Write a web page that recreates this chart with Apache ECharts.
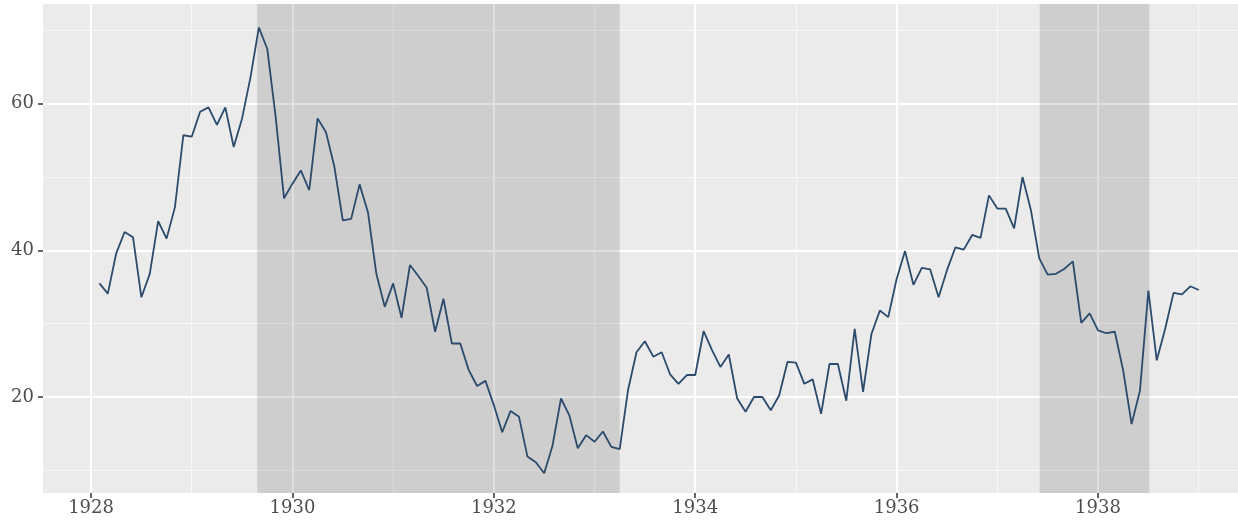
<!DOCTYPE html>
<html>
<head>
<meta charset="utf-8">
<title>1928-1938</title>
<script src="https://cdn.jsdelivr.net/npm/echarts@6/dist/echarts.min.js"></script>
<style>
	html, body { margin: 0; padding: 0; background: #ffffff; }
	#line { width: 1238px; height: 525px; }
</style>
</head>
<body>
<div id="line"></div>
<script>
// monthly series, Jan 1928 - Dec 1938 (plotted at month end)
var startYear = 1928;
var values = [
	35.5, 34.1, 39.6, 42.5, 41.8, 33.6, 36.8, 44.0, 41.6, 45.9, 55.7, 55.5,
	58.9, 59.5, 57.1, 59.5, 54.1, 58.0, 63.6, 70.4, 67.5, 58.2, 47.1, 49.1,
	50.9, 48.2, 58.0, 56.1, 51.4, 44.1, 44.3, 49.0, 45.2, 36.8, 32.3, 35.5,
	30.8, 38.0, 36.5, 34.9, 28.9, 33.4, 27.3, 27.3, 23.7, 21.5, 22.2, 18.9,
	15.2, 18.1, 17.3, 11.9, 11.1, 9.6, 13.4, 19.8, 17.5, 13.0, 14.8, 13.9,
	15.3, 13.2, 12.9, 21.0, 26.1, 27.6, 25.5, 26.1, 23.1, 21.8, 23.0, 23.0,
	29.0, 26.4, 24.1, 25.8, 19.8, 18.0, 20.0, 20.0, 18.2, 20.2, 24.8, 24.7,
	21.8, 22.4, 17.7, 24.5, 24.5, 19.5, 29.3, 20.7, 28.6, 31.8, 30.9, 36.1,
	39.9, 35.3, 37.6, 37.4, 33.6, 37.3, 40.4, 40.1, 42.1, 41.7, 47.5, 45.7,
	45.7, 43.0, 50.0, 45.5, 38.9, 36.7, 36.8, 37.5, 38.5, 30.1, 31.4, 29.1,
	28.7, 28.9, 23.6, 16.3, 20.9, 34.5, 25.0, 29.3, 34.2, 34.0, 35.1, 34.6
];

// shaded periods (decimal years)
var recessions = [[1929.65, 1933.25], [1937.42, 1938.51]];

// axis ticks
var xTicks = [1928, 1930, 1932, 1934, 1936, 1938];
var xMinor = [1929, 1931, 1933, 1935, 1937, 1939];
var yTicks = [20, 40, 60];
var yMinor = [10, 30, 50, 70];

var myChart = echarts.init(document.getElementById('line'));

// points [x, y]
var points = [];
for (var i = 0; i < values.length; i++) {
	points.push([startYear + (i + 1) / 12, values[i]]);
}

// grid lines as markLines (ggplot style: white major, thinner minor)
var gridLines = [];
xMinor.forEach(function (v) { gridLines.push({xAxis: v, lineStyle: {color: '#f7f7f7', width: 1, type: 'solid'}}); });
yMinor.forEach(function (v) { gridLines.push({yAxis: v, lineStyle: {color: '#f7f7f7', width: 1, type: 'solid'}}); });
xTicks.forEach(function (v) { gridLines.push({xAxis: v, lineStyle: {color: '#ffffff', width: 2, type: 'solid'}}); });
yTicks.forEach(function (v) { gridLines.push({yAxis: v, lineStyle: {color: '#ffffff', width: 2, type: 'solid'}}); });

var option = {
	animation: false,
	grid: {
		left: 43, top: 4, right: 0, bottom: 32,
		show: true,
		backgroundColor: '#ebebeb',
		borderWidth: 0
	},
	xAxis: {
		type: 'value',
		min: 1927.523,
		max: 1939.39,
		axisLine: {show: false},
		splitLine: {show: false},
		axisTick: {show: true, length: 5, customValues: xTicks, lineStyle: {color: '#333333', width: 1.5}},
		axisLabel: {
			customValues: xTicks, margin: 6,
			fontFamily: 'DejaVu Serif', fontSize: 18, color: '#4d4d4d',
			formatter: function (v) { return String(v); }
		}
	},
	yAxis: {
		type: 'value',
		min: 6.91,
		max: 73.6,
		axisLine: {show: false},
		splitLine: {show: false},
		axisTick: {show: true, length: 5, customValues: yTicks, lineStyle: {color: '#333333', width: 1.5}},
		axisLabel: {
			customValues: yTicks, margin: 9,
			fontFamily: 'DejaVu Serif', fontSize: 18, color: '#4d4d4d',
			formatter: function (v) { return String(v); }
		}
	},
	series: [{
		name: 'grid',
		type: 'line',
		z: 1,
		data: [],
		silent: true,
		markLine: {
			z: 1,
			silent: true,
			symbol: ['none', 'none'],
			label: {show: false},
			emphasis: {disabled: true},
			data: gridLines
		}
	}, {
		name: 'recession',
		type: 'line',
		z: 2,
		data: [],
		silent: true,
		markArea: {
			z: 2,
			silent: true,
			itemStyle: {color: 'rgba(0,0,0,0.12)'},
			emphasis: {disabled: true},
			data: recessions.map(function (r) { return [{xAxis: r[0]}, {xAxis: r[1]}]; })
		}
	}, {
		name: 'value',
		type: 'line',
		z: 3,
		data: points,
		showSymbol: false,
		lineStyle: {color: '#2b4a6c', width: 1.8}
	}]
};

myChart.setOption(option);
</script>
</body>
</html>
